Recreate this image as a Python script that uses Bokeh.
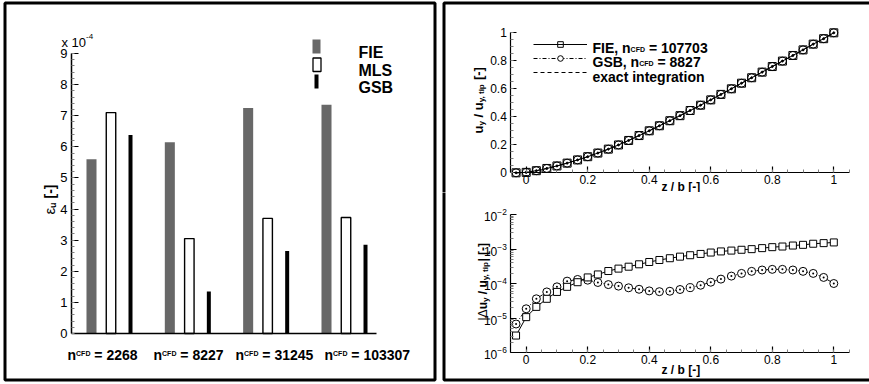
import math

from bokeh.embed import file_html
from bokeh.layouts import column, row
from bokeh.models import (BoxAnnotation, ColumnDataSource, FixedTicker, Label,
                          Legend, LegendItem, NumeralTickFormatter, Range1d,
                          SingleIntervalTicker)
from bokeh.plotting import figure
from bokeh.resources import INLINE
from bokeh.transform import dodge

# ---------------------------------------------------------------- data
# error of the interpolated displacement, eps_u, in units of 1e-4
mesh_sizes = ["2268", "8227", "31245", "103307"]
mesh_index = [1, 2, 3, 4]
eps_fie = [5.60, 6.15, 7.25, 7.35]
eps_mls = [7.10, 3.05, 3.70, 3.73]
eps_gsb = [6.38, 1.35, 2.65, 2.85]
scheme_names = ["FIE", "MLS", "GSB"]

# spanwise stations z/b
z_b = [-0.033, 0.0, 0.033, 0.067, 0.1, 0.133, 0.167, 0.2, 0.233, 0.267, 0.3,
       0.333, 0.367, 0.4, 0.433, 0.467, 0.5, 0.533, 0.567, 0.6, 0.633, 0.667,
       0.7, 0.733, 0.767, 0.8, 0.833, 0.867, 0.9, 0.933, 0.967, 1.0]

# normalised vertical displacement u_y / u_y,tip
uy_fie = [0.0, 0.003, 0.015, 0.031, 0.049, 0.069, 0.092, 0.115, 0.141, 0.169,
          0.199, 0.231, 0.266, 0.300, 0.336, 0.372, 0.408, 0.445, 0.483, 0.521,
          0.560, 0.600, 0.640, 0.679, 0.719, 0.759, 0.798, 0.838, 0.878, 0.919,
          0.958, 1.0]
uy_gsb = [0.0, 0.003, 0.015, 0.031, 0.049, 0.069, 0.092, 0.115, 0.141, 0.169,
          0.199, 0.231, 0.266, 0.300, 0.336, 0.372, 0.408, 0.445, 0.483, 0.521,
          0.560, 0.600, 0.640, 0.679, 0.719, 0.759, 0.798, 0.838, 0.878, 0.919,
          0.958, 1.0]
uy_exact = [0.0, 0.003, 0.015, 0.031, 0.049, 0.069, 0.092, 0.115, 0.141, 0.169,
            0.199, 0.231, 0.266, 0.300, 0.336, 0.372, 0.408, 0.445, 0.483, 0.521,
            0.560, 0.600, 0.640, 0.679, 0.719, 0.759, 0.798, 0.838, 0.878, 0.919,
            0.958, 1.0]

# absolute deviation from the exact integration
du_fie = [3.1e-6, 1.06e-5, 2.1e-5, 3.6e-5, 5.7e-5, 8.0e-5, 1.09e-4, 1.5e-4,
          1.83e-4, 2.3e-4, 2.7e-4, 3.07e-4, 3.6e-4, 4.2e-4, 4.8e-4, 5.4e-4,
          6.0e-4, 6.6e-4, 7.2e-4, 7.9e-4, 8.5e-4, 9.0e-4, 9.5e-4, 9.9e-4,
          1.06e-3, 1.13e-3, 1.18e-3, 1.26e-3, 1.32e-3, 1.42e-3, 1.48e-3, 1.55e-3]
du_gsb = [6.7e-6, 1.85e-5, 3.6e-5, 5.7e-5, 8.0e-5, 1.17e-4, 1.31e-4, 1.25e-4,
          1.07e-4, 9.3e-5, 8.4e-5, 7.5e-5, 6.8e-5, 6.1e-5, 5.8e-5, 5.96e-5,
          6.7e-5, 7.6e-5, 8.9e-5, 1.09e-4, 1.34e-4, 1.64e-4, 1.96e-4, 2.25e-4,
          2.46e-4, 2.57e-4, 2.57e-4, 2.46e-4, 2.25e-4, 1.96e-4, 1.5e-4, 1.0e-4]

n_fie_span = "107703"
n_gsb_span = "8827"

# ---------------------------------------------------------------- helpers
FONT = "Liberation Sans"
GREY = "#686868"

# advance widths (1/1000 em) of Liberation Sans, regular and bold
_REG = {" ": 278, ",": 278, "-": 333, ".": 278, "/": 278, "=": 584, "[": 278,
        "]": 278, "|": 260, "x": 500, "u": 556, "y": 500, "t": 278, "i": 222,
        "p": 556, "\u0394": 668, "\u03b5": 440}
_BOLD = {" ": 278, ",": 278, "-": 333, ".": 278, "/": 278, "=": 584, "[": 333,
         "]": 333, "|": 280, "a": 556, "b": 611, "c": 556, "e": 556, "g": 611,
         "i": 278, "n": 611, "o": 611, "p": 611, "r": 389, "t": 333, "u": 611,
         "x": 556, "y": 556, "z": 500, "B": 722, "C": 722, "D": 722, "E": 667,
         "F": 611, "G": 778, "I": 278, "L": 611, "M": 833, "S": 667,
         "\u0394": 700, "\u03b5": 480}


def text_width(s, size, bold):
    table = _BOLD if bold else _REG
    return sum(table.get(ch, 556) for ch in s) * size / 1000.0


def rich_text(fig, x, y, parts, angle=0.0):
    """Write a run of text pieces (text, size, bold, baseline shift) in canvas px."""
    pos = 0.0
    for text, size, bold, shift in parts:
        lead = len(text) - len(text.lstrip(" "))
        pos += text_width(" " * lead, size, bold)
        body = text.strip(" ")
        if angle == 0.0:
            lx, ly = x + pos, y + shift
        else:
            lx, ly = x + shift, y - pos
        fig.add_layout(Label(x=lx, y=ly, x_units="canvas", y_units="canvas",
                             text=body, angle=angle, text_font=FONT,
                             text_font_size=f"{size}px",
                             text_font_style="bold" if bold else "normal",
                             text_align="left", text_baseline="alphabetic",
                             text_color="black"))
        pos += text_width(text.lstrip(" "), size, bold)


def canvas_box(fig, l, r, t, b, **props):
    fig.add_layout(BoxAnnotation(left=l, right=r, top=t, bottom=b,
                                 left_units="canvas", right_units="canvas",
                                 top_units="canvas", bottom_units="canvas",
                                 **props))


def panel_frame(fig, l, r, t, b):
    canvas_box(fig, l, r, t, b, fill_color=None, fill_alpha=0,
               line_color="black", line_alpha=1, line_width=3, level="overlay")


def lin(d0, d1, p0, p1):
    """Map a canvas pixel to the data value, given two reference points."""
    return lambda p: d0 + (p - p0) * (d1 - d0) / (p1 - p0)


def style_axis(ax, size, tick_in=6):
    ax.axis_line_color = "black"
    ax.axis_line_width = 1.2
    ax.major_tick_line_color = "black"
    ax.major_tick_line_width = 1.2
    ax.major_tick_in = tick_in
    ax.major_tick_out = 0
    ax.minor_tick_line_color = "#808080"
    ax.minor_tick_in = 3
    ax.minor_tick_out = 0
    ax.major_label_text_font = FONT
    ax.major_label_text_font_size = size
    ax.major_label_text_color = "black"
    ax.major_label_standoff = 4


def base_fig(width, height, x_range, y_range, **kw):
    # the frame fills the whole canvas; the axes sit at fixed data locations
    p = figure(width=width, height=height, x_range=x_range, y_range=y_range,
               output_backend="svg", toolbar_location=None, min_border=0, **kw)
    p.outline_line_color = None
    p.grid.visible = False
    p.background_fill_color = "white"
    p.border_fill_color = "white"
    return p


# ---------------------------------------------------------------- bar chart
LW, H = 438, 384
fx = lin(1, 4, 110.5, 345.5)
fy = lin(0, 9, 333, 53)
left = base_fig(LW, H, Range1d(fx(0), fx(LW)), Range1d(fy(H), fy(0)))

bars = ColumnDataSource(dict(pos=mesh_index, fie=eps_fie, mls=eps_mls, gsb=eps_gsb))
left.vbar(x=dodge("pos", -0.249), top="fie", width=0.128, source=bars,
          fill_color=GREY, line_color=None)
left.vbar(x="pos", top="mls", width=0.121, source=bars,
          fill_color="white", line_color="black", line_width=1.4)
left.vbar(x=dodge("pos", 0.249), top="gsb", width=0.051, source=bars,
          fill_color="black", line_color=None)

style_axis(left.yaxis[0], "13px", tick_in=7)
left.yaxis.ticker = SingleIntervalTicker(interval=1, num_minor_ticks=5)
left.yaxis.axis_line_width = 1.5
left.yaxis.fixed_location = fx(71)
left.yaxis.bounds = (0, 9)
style_axis(left.xaxis[0], "13px")
left.xaxis.ticker = FixedTicker(ticks=[])
left.xaxis.axis_line_width = 1.5
left.xaxis.fixed_location = 0
left.xaxis.bounds = (fx(71), fx(376))

# scale factor and axis title
rich_text(left, 61, 41.5, [("x 10", 13, False, 0), ("-4", 8, False, -6)])
rich_text(left, 49, 214, [("\u03b5", 15, False, 0), ("u", 9, True, 3),
                           (" [-]", 14, True, 0)], angle=math.pi / 2)

# case labels under each group
label_starts = [67, 153, 235, 324]
for start, n in zip(label_starts, mesh_sizes):
    rich_text(left, start, 354, [("n", 14, True, 0), ("CFD", 7, True, -1),
                                 (" = " + n, 14, True, 0)])

# legend
for (l, r, t, b), fill, line in [((312, 320, 39, 53), GREY, None),
                                 ((312.5, 320.5, 57.5, 71), "white", "black"),
                                 ((314, 318, 74, 88), "black", None)]:
    canvas_box(left, l, r, t, b, fill_color=fill, fill_alpha=1,
               line_color=line, line_alpha=1, line_width=1.3)
for name, yb in zip(scheme_names, [52, 69.5, 86.5]):
    rich_text(left, 358, yb, [(name, 16, True, 0)])

panel_frame(left, 4.5, 434.5, 2.5, 379.5)

# ---------------------------------------------------------------- displacement
RW, RH = 431, 192
zx = lin(0, 1, 87.7, 395.3)
zr = Range1d(zx(0), zx(RW))
uy = lin(0, 1, 172.3, 32.3)
top = base_fig(RW, RH, zr, Range1d(uy(RH), uy(0)))

gsb_line = top.line(z_b, uy_gsb, color="black", line_width=1, line_dash="4 2 1 2")
gsb_pts = top.scatter(z_b, uy_gsb, marker="circle", size=8, fill_color="white",
                      line_color="black", line_width=1)
fie_line = top.line(z_b, uy_fie, color="black", line_width=1)
fie_pts = top.scatter(z_b, uy_fie, marker="square", size=8, fill_color=None,
                      line_color="black", line_width=1)
ex_line = top.line(z_b, uy_exact, color="black", line_width=1, line_dash="4 3")
top.scatter(z_b, uy_exact, marker="circle", size=2, fill_color="black",
            line_color="black")

for ax in (top.xaxis[0], top.yaxis[0]):
    style_axis(ax, "12px")
    ax.ticker = SingleIntervalTicker(interval=0.2, num_minor_ticks=4)
    ax.formatter = NumeralTickFormatter(format="0.[0]")
top.xaxis.major_label_standoff = 2
top.xaxis.fixed_location = 0
top.xaxis.bounds = (-0.05, 1.05)
top.yaxis.fixed_location = -0.05
top.yaxis.bounds = (0, 1)

legend = Legend(items=[LegendItem(label=" ", renderers=[fie_line, fie_pts]),
                       LegendItem(label=" ", renderers=[gsb_line, gsb_pts]),
                       LegendItem(label=" ", renderers=[ex_line])],
                location=(95, RH - 78.7), glyph_width=54, glyph_height=14,
                label_height=14, label_width=0, label_standoff=0,
                spacing=0, padding=0, margin=0, border_line_color=None,
                background_fill_alpha=0, label_text_font_size="1px")
top.add_layout(legend)

rich_text(top, 154, 47, [("FIE, n", 14, True, 0), ("CFD", 7, True, 1.5),
                         (" = " + n_fie_span, 14, True, 0)])
rich_text(top, 154, 61.5, [("GSB, n", 14, True, 0), ("CFD", 7, True, 1.5),
                           (" = " + n_gsb_span, 14, True, 0)])
rich_text(top, 154, 76, [("exact integration", 14, True, 0)])

rich_text(top, 223, 186, [("z / b [-]", 12, True, 0)])
rich_text(top, 40, 133, [("u", 13, True, 0), ("y", 8, True, 3), (" / u", 13, True, 0),
                         ("y, tip", 8, True, 3), (" [-]", 13, True, 0)],
          angle=math.pi / 2)

panel_frame(top, 5.5, 445, 2.5, 220)

# ---------------------------------------------------------------- deviation
ly = lin(-6, -2, 160, 22)
bot = base_fig(RW, RH, Range1d(zx(0), zx(RW)),
               Range1d(10 ** ly(RH), 10 ** ly(0)), y_axis_type="log")

bot.line(z_b, du_gsb, color="black", line_width=1, line_dash="4 2 1 2")
bot.scatter(z_b, du_gsb, marker="circle_dot", size=8, fill_color="white",
            line_color="black", line_width=1)
bot.line(z_b, du_fie, color="black", line_width=1)
bot.scatter(z_b, du_fie, marker="square", size=7, fill_color="white",
            line_color="black", line_width=1)

style_axis(bot.xaxis[0], "12px")
bot.xaxis.ticker = SingleIntervalTicker(interval=0.2, num_minor_ticks=4)
bot.xaxis.formatter = NumeralTickFormatter(format="0.[0]")
bot.xaxis.major_label_standoff = 2
bot.xaxis.fixed_location = 1e-6
bot.xaxis.bounds = (-0.05, 1.05)
style_axis(bot.yaxis[0], "12px")
decades = [1e-6, 1e-5, 1e-4, 1e-3, 1e-2]
bot.yaxis.ticker = FixedTicker(ticks=decades,
                               minor_ticks=[m * d for d in decades[:-1] for m in range(2, 10)])
bot.yaxis.fixed_location = -0.05
bot.yaxis.bounds = (1e-6, 1e-2)

rich_text(bot, 223, 177, [("z / b [-]", 12, True, 0)])
rich_text(bot, 44, 128, [("|\u0394", 12, False, 0), ("u", 12, True, 0), ("y", 8, True, 3),
                         (" / u", 12, True, 0), ("y, tip", 8, True, 3),
                         ("| [-]", 12, True, 0)], angle=math.pi / 2)

panel_frame(bot, 5.5, 445, -20, 187.5)

layout = row(left, column(top, bot))
open("out.html", "w").write(file_html(layout, INLINE))
